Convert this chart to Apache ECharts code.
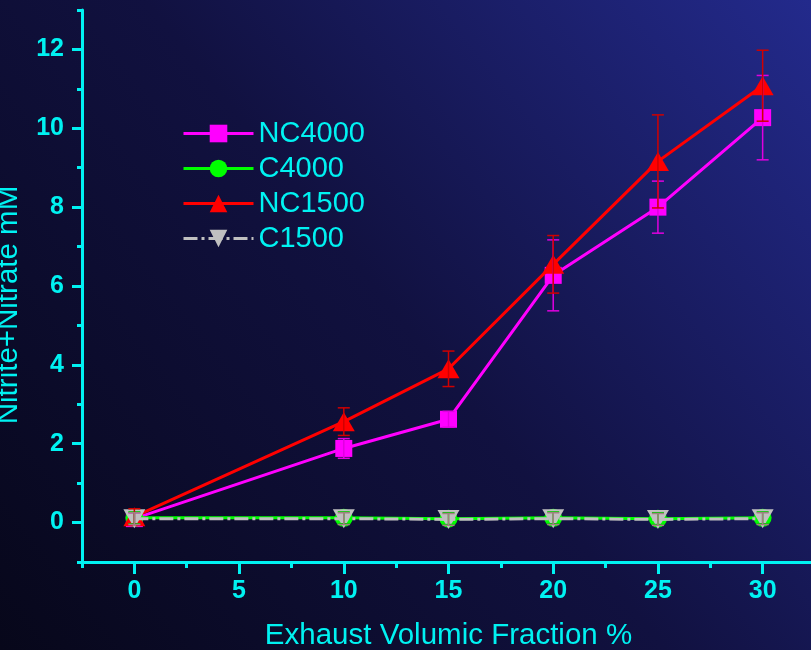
<!DOCTYPE html>
<html>
<head>
<meta charset="utf-8">
<script src="https://cdn.jsdelivr.net/npm/echarts@6/dist/echarts.min.js"></script>
<style>html,body{margin:0;padding:0;background:#0a0a2a;}#c{width:811px;height:650px;}</style>
</head>
<body>
<div id="c"></div>
<script>
const xValues = [0, 10, 15, 20, 25, 30];
const nc4000 = [0.10, 1.88, 2.62, 6.27, 8.00, 10.27];
const nc4000Err = [0.15, 0.25, 0.20, 0.90, 0.66, 1.07];
const c4000 = [0.12, 0.12, 0.10, 0.12, 0.10, 0.12];
const c4000Err = [0.15, 0.15, 0.15, 0.15, 0.15, 0.15];
const nc1500 = [0.15, 2.56, 3.90, 6.55, 9.16, 11.08];
const nc1500Err = [0.20, 0.35, 0.45, 0.73, 1.18, 0.90];
const c1500 = [0.10, 0.10, 0.08, 0.10, 0.08, 0.10];
const c1500Err = [0.15, 0.15, 0.15, 0.15, 0.15, 0.15];
const xMajorTicks = [0, 5, 10, 15, 20, 25, 30];
const yMajorTicks = [0, 2, 4, 6, 8, 10, 12];
const xTitle = 'Exhaust Volumic Fraction %';
const yTitle = 'Nitrite+Nitrate mM';

const CYAN = '#00f2f2';
const pairs = (vals) => xValues.map((x, i) => [x, vals[i]]);
const errs = (vals, e) => xValues.map((x, i) => [x, vals[i] - e[i], vals[i] + e[i]]);

function errSeries(name, vals, e, color) {
  return {
    type: 'custom', name: name, xAxisIndex: 0, yAxisIndex: 0, z: 10,
    encode: { x: 0, y: [1, 2] },
    data: errs(vals, e),
    renderItem: function (params, api) {
      const x = api.value(0);
      const lo = api.coord([x, api.value(1)]);
      const hi = api.coord([x, api.value(2)]);
      const w = 6;
      const st = { stroke: color, lineWidth: 1.5 };
      return { type: 'group', children: [
        { type: 'line', shape: { x1: lo[0], y1: lo[1], x2: hi[0], y2: hi[1] }, style: st },
        { type: 'line', shape: { x1: lo[0] - w, y1: lo[1], x2: lo[0] + w, y2: lo[1] }, style: st },
        { type: 'line', shape: { x1: hi[0] - w, y1: hi[1], x2: hi[0] + w, y2: hi[1] }, style: st }
      ]};
    }
  };
}

const chart = echarts.init(document.getElementById('c'));
const axisLine = { show: true, onZero: false, lineStyle: { color: CYAN, width: 3 } };
const FONT = 'Liberation Sans, Arial';
chart.setOption({
  animation: false,
  backgroundColor: new echarts.graphic.LinearGradient(0, 1, 1, 0, [
    { offset: 0, color: '#07071a' },
    { offset: 0.5, color: '#111140' },
    { offset: 1, color: '#232a8c' }
  ]),
  grid: { left: 82, right: -4, top: 10, bottom: 88, outerBoundsMode: 'none', containLabel: false },
  legend: {
    data: ['NC4000', 'C4000', 'NC1500', 'C1500'],
    orient: 'vertical', left: 177, top: 114,
    itemWidth: 70, itemHeight: 22, itemGap: 6,
    lineStyle: { width: 3 },
    textStyle: { color: CYAN, fontSize: 29, fontFamily: FONT }
  },
  xAxis: [
    {
      type: 'value', min: -2.5, max: 32.5,
      position: 'bottom',
      axisLine: axisLine,
      splitLine: { show: false },
      axisTick: { show: true, customValues: xMajorTicks, length: 12, lineStyle: { color: CYAN, width: 3 } },
      axisLabel: { show: true, customValues: xMajorTicks, margin: 17, color: CYAN, fontSize: 25, fontWeight: 'bold', fontFamily: FONT },
      name: xTitle, nameLocation: 'middle', nameGap: 59,
      nameTextStyle: { color: CYAN, fontSize: 29.5, fontFamily: FONT }
    },
    {
      type: 'value', min: -2.5, max: 32.5, interval: 2.5,
      position: 'bottom',
      axisLine: { show: false, onZero: false },
      splitLine: { show: false },
      axisTick: { show: true, length: 6, lineStyle: { color: CYAN, width: 3 } },
      axisLabel: { show: false }
    }
  ],
  yAxis: [
    {
      type: 'value', min: -1, max: 13,
      position: 'left',
      axisLine: axisLine,
      splitLine: { show: false },
      axisTick: { show: true, customValues: yMajorTicks, length: 10, lineStyle: { color: CYAN, width: 3 } },
      axisLabel: { show: true, customValues: yMajorTicks, margin: 18, color: CYAN, fontSize: 25, fontWeight: 'bold', fontFamily: FONT },
      name: yTitle, nameLocation: 'middle', nameGap: 58,
      nameTextStyle: { color: CYAN, fontSize: 29.5, fontFamily: FONT, padding: [0, 38, 0, 0] }
    },
    {
      type: 'value', min: -1, max: 13, interval: 1,
      position: 'left',
      axisLine: { show: false, onZero: false },
      splitLine: { show: false },
      axisTick: { show: true, length: 5, lineStyle: { color: CYAN, width: 3 } },
      axisLabel: { show: false }
    }
  ],
  series: [
    { type: 'line', name: 'NC4000', data: pairs(nc4000), symbol: 'rect', symbolSize: 17,
      itemStyle: { color: '#ff00ff' }, lineStyle: { color: '#ff00ff', width: 3 }, z: 3 },
    { type: 'line', name: 'C4000', data: pairs(c4000), symbol: 'circle', symbolSize: 18,
      itemStyle: { color: '#00ff00' }, lineStyle: { color: '#00ff00', width: 3 }, z: 3 },
    { type: 'line', name: 'NC1500', data: pairs(nc1500), symbol: 'triangle', symbolSize: [22, 19],
      itemStyle: { color: '#ff0000' }, lineStyle: { color: '#ff0000', width: 3 }, z: 4 },
    { type: 'line', name: 'C1500', data: pairs(c1500), symbol: 'triangle', symbolRotate: 180, symbolSize: [22, 19],
      itemStyle: { color: '#c0c0c0' }, lineStyle: { color: '#c0c0c0', width: 3, type: [14, 4, 3, 4] }, z: 5 },
    errSeries('NC4000 err', nc4000, nc4000Err, '#e000e0'),
    errSeries('C4000 err', c4000, c4000Err, '#00cc00'),
    errSeries('NC1500 err', nc1500, nc1500Err, '#d00000'),
    errSeries('C1500 err', c1500, c1500Err, '#a08080')
  ]
});
</script>
</body>
</html>
